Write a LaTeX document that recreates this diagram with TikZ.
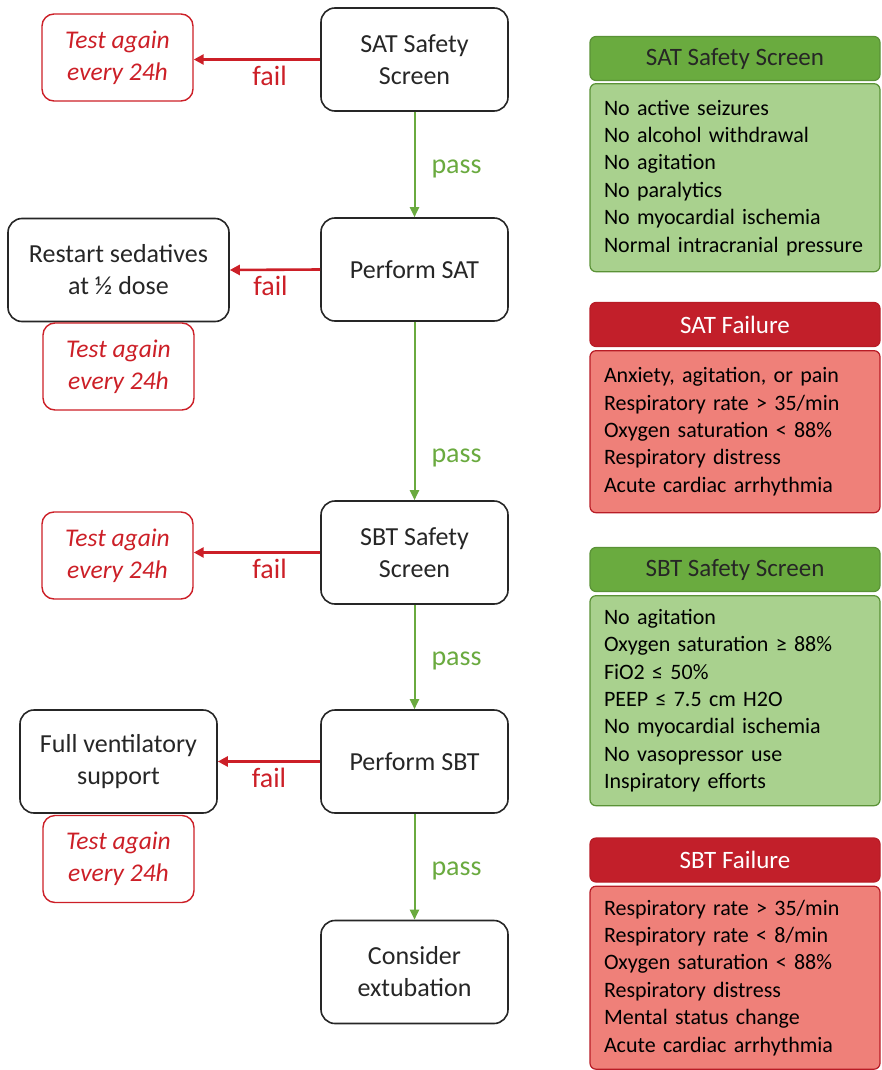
\documentclass[tikz,border=0pt]{standalone}
\usepackage{fontspec}
\setmainfont{Carlito}
\usetikzlibrary{arrows.meta, positioning}

\definecolor{failred}{HTML}{CC1F27}
\definecolor{passgreen}{HTML}{6AAA3F}
\definecolor{hdrgreen}{HTML}{6AAB3F}
\definecolor{bodygreen}{HTML}{A9D18E}
\definecolor{edgegreen}{HTML}{5A9236}
\definecolor{hdrred}{HTML}{C21F2A}
\definecolor{bodyred}{HTML}{EF8079}
\definecolor{edgered}{HTML}{B81C26}

\begin{document}
\begin{tikzpicture}[
    x=1pt, y=-1pt,
    box/.style={draw=black!85, line width=1.6pt, rounded corners=14pt, minimum width=187pt, minimum height=103pt, align=center, text=black!85, font=\fontsize{26}{32}\selectfont},
    retest/.style={draw=failred, line width=1.4pt, rounded corners=12pt, minimum width=151pt, minimum height=87pt, align=center, text=failred, font=\fontsize{25.5}{32}\selectfont\itshape},
    failarr/.style={-{Triangle[length=10pt, width=10pt]}, failred, line width=2.6pt},
    passarr/.style={-{Triangle[length=10pt, width=9pt]}, passgreen, line width=2pt},
    faillbl/.style={below=3pt, inner sep=2pt, text=failred, font=\fontsize{28}{30}\selectfont},
    passlbl/.style={right=14pt, yshift=-4pt, inner sep=2pt, text=passgreen, font=\fontsize{28}{30}\selectfont},
    hdr/.style={draw, line width=1.2pt, rounded corners=6pt, minimum width=290pt, minimum height=44pt, font=\fontsize{25}{30}\selectfont},
    panel/.style={draw, line width=1.2pt, rounded corners=6pt, text width=262pt, inner xsep=14pt, align=left, font=\fontsize{22}{27.4}\selectfont},
]
\useasboundingbox (0,0) rectangle (881,1070);

% ---- main column ----
\node[box] (sat) at (414.5,59.5) {SAT Safety\\Screen};
\node[box] (psat) at (414.5,269.5) {Perform SAT};
\node[box] (sbt) at (414.5,552.5) {SBT Safety\\Screen};
\node[box] (psbt) at (414.5,761.5) {Perform SBT};
\node[box] (ext) at (414.5,972) {Consider\\extubation};

% ---- fail side ----
\node[retest] (retest1) at (117.5,57.5) {Test again\\every 24h};
\node[box, minimum width=221pt] (restart) at (118.5,270) {Restart sedatives\\at ½ dose};
\node[retest, below=0pt of restart] (retest2) {Test again\\every 24h};
\node[retest] (retest3) at (117.5,555.5) {Test again\\every 24h};
\node[box, minimum width=197pt] (fullvent) at (118.5,761.5) {Full ventilatory\\support};
\node[retest, below=1pt of fullvent] (retest4) {Test again\\every 24h};

% ---- arrows ----
\draw[failarr] (sat.west) -- node[faillbl, pos=0.4] {fail} (sat.west -| retest1.east);
\draw[failarr] (psat.west) -- node[faillbl, pos=0.55] {fail} (restart.east);
\draw[failarr] (sbt.west) -- node[faillbl, pos=0.4] {fail} (sbt.west -| retest3.east);
\draw[failarr] (psbt.west) -- node[faillbl, pos=0.5] {fail} (fullvent.east);

\draw[passarr] (sat.south) -- node[passlbl, pos=0.5] {pass} (psat.north);
\draw[passarr] (psat.south) -- node[passlbl, pos=0.74] {pass} (sbt.north);
\draw[passarr] (sbt.south) -- node[passlbl, pos=0.5] {pass} (psbt.north);
\draw[passarr] (psbt.south) -- node[passlbl, pos=0.5] {pass} (ext.north);

% ---- criteria panels ----
\node[hdr, draw=edgegreen, fill=hdrgreen, text=black!85] (hdr1) at (735,58.5) {SAT Safety Screen};
\node[panel, draw=edgegreen, fill=bodygreen, minimum height=188pt, below=2pt of hdr1] (body1) {No active seizures\\No alcohol withdrawal\\No agitation\\No paralytics\\No myocardial ischemia\\Normal intracranial pressure};

\node[hdr, draw=edgered, fill=hdrred, text=white] (hdr2) at (735,324.5) {SAT Failure};
\node[panel, draw=edgered, fill=bodyred, minimum height=162pt, below=3pt of hdr2] (body2) {Anxiety, agitation, or pain\\Respiratory rate > 35/min\\Oxygen saturation < 88\%\\Respiratory distress\\Acute cardiac arrhythmia};

\node[hdr, draw=edgegreen, fill=hdrgreen, text=black!85] (hdr3) at (735,569.5) {SBT Safety Screen};
\node[panel, draw=edgegreen, fill=bodygreen, minimum height=210pt, below=3pt of hdr3] (body3) {No agitation\\Oxygen saturation ≥ 88\%\\FiO2 ≤ 50\%\\PEEP ≤ 7.5 cm H2O\\No myocardial ischemia\\No vasopressor use\\Inspiratory efforts};

\node[hdr, draw=edgered, fill=hdrred, text=white] (hdr4) at (735,860) {SBT Failure};
\node[panel, draw=edgered, fill=bodyred, minimum height=183pt, below=3pt of hdr4] (body4) {Respiratory rate > 35/min\\Respiratory rate < 8/min\\Oxygen saturation < 88\%\\Respiratory distress\\Mental status change\\Acute cardiac arrhythmia};

\end{tikzpicture}
\end{document}
